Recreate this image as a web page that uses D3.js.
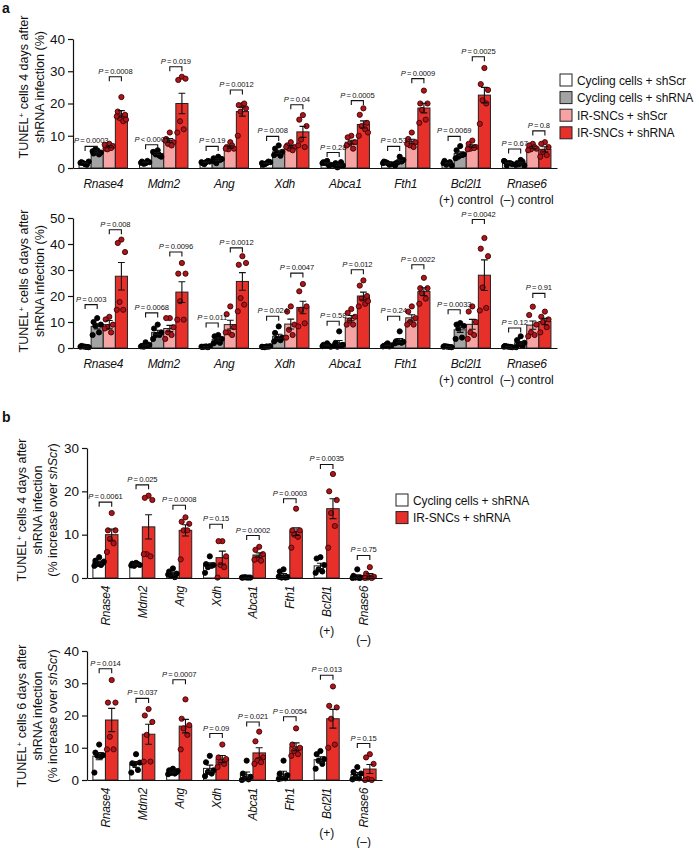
<!DOCTYPE html>
<html><head><meta charset="utf-8">
<script src="https://cdn.jsdelivr.net/npm/d3@7"></script>
<style>
body{margin:0;background:#fff}
svg{display:block}
text{font-family:"Liberation Sans",Arial,Helvetica,sans-serif;fill:#111}
</style>
</head><body>
<svg id="c" width="699" height="848"></svg>
<script>
// ---------- categories ----------
const genes = ["Rnase4","Mdm2","Ang","Xdh","Abca1","Fth1","Bcl2l1","Rnase6"];
const seriesA = ["Cycling cells + shScr","Cycling cells + shRNA","IR-SNCs + shScr","IR-SNCs + shRNA"];
const seriesB = ["Cycling cells + shRNA","IR-SNCs + shRNA"];
const ticksA4 = [0,10,20,30,40];
const ticksA6 = [0,10,20,30,40,50];
const ticksB4 = [0,10,20,30];
const ticksB6 = [0,10,20,30,40];

// ---------- panel a, 4 days ----------
const a4_cycScr = [1.6,1.8,1.8,1.5,1.5,1.5,1.5,1.5];
const a4_cycRNA = [5.0,4.5,2.6,5.0,1.0,2.0,4.5,1.5];
const a4_sncScr = [6.6,8.5,6.5,6.6,8.0,8.2,6.8,6.4];
const a4_sncRNA = [16.8,20.0,17.5,11.2,13.5,18.6,22.6,5.8];
const a4_sem_cycScr = [0.15,0.15,0.15,0.15,0.2,0.15,0.2,0.2];
const a4_sem_cycRNA = [0.3,0.3,0.3,0.5,0.25,0.35,0.5,0.25];
const a4_sem_sncScr = [0.3,0.6,0.35,0.4,0.6,0.7,0.4,0.35];
const a4_sem_sncRNA = [1.0,3.2,1.4,1.7,1.1,1.5,2.4,0.8];
const a4_pts_cycScr = [[1.2,1.8,2.0,1.5,1.0,1.6],[1.5,2.0,1.8,1.3,2.2,1.6],[1.8,1.5,2.0,1.2,2.2,1.8],[1.5,1.0,1.8,1.2,2.0,1.5],[2.2,1.8,1.0,1.5,0.8,1.5],[1.5,2.0,1.2,1.8,1.0,1.5],[1.5,2.2,0.8,1.0,1.8,1.5],[1.5,2.0,1.2,0.8,1.5,2.2]];
const a4_pts_cycRNA = [[5.5,4.5,4.8,5.8,4.2,5.2],[5.5,4.8,3.5,4.2,3.8,5.0],[3.5,2.0,2.8,1.5,2.5,3.0],[7.0,6.0,5.0,4.5,3.8,4.0],[0.5,1.5,0.8,0.2,1.8,1.0],[3.5,1.5,2.5,1.8,2.0,0.8],[6.8,5.5,4.2,3.5,4.0,3.0],[2.5,1.5,0.8,1.2,2.0,1.0]];
const a4_pts_sncScr = [[7.5,6.0,6.8,5.8,6.2,7.2],[11,9,8,7.5,7,8.5],[8,6.5,6,5.8,7,6],[8,7,6.5,6,5.5,6.5],[10,9.5,8,7.5,6,7],[11,9,8,7,6.5,7.5],[8.5,7.5,6.5,6,6.2,5.8],[7.5,7,6,5.8,6.5,5.5]];
const a4_pts_sncRNA = [[22,17.5,16.5,15.5,14.5,16.0,15.0],[28.3,27.3,27.7,14.5,12,11],[19.5,19.5,18.5,17.5,20,10],[16.4,15,13,8.8,6.5,7],[18.5,16.5,14,13,12,10,11],[24,20,20,18,15,14],[31,26,24.2,21,20,13.7],[8,7.5,6.5,5,4,3.5]];
const a4_pLeft = ["0.0003","< 0.0001","0.19","0.008","0.28","0.53","0.0069","0.67"];
const a4_pLeftAt = [6.7,7.2,6.7,9.8,4.8,6.7,9.8,5.9];
const a4_pRight = ["0.0008","0.019","0.0012","0.04","0.0005","0.0009","0.0025","0.8"];
const a4_pRightAt = [28.3,31.4,24.2,19.6,20.9,27.7,34.5,11.5];

// ---------- panel a, 6 days ----------
const a6_cycScr = [0.5,1.0,0.5,0.5,1.0,1.0,0.5,0.5];
const a6_cycRNA = [8.3,6.0,3.2,4.5,2.0,2.9,7.0,2.0];
const a6_sncScr = [9.0,7.5,9.0,9.2,11.5,11.6,9.1,8.8];
const a6_sncRNA = [27.6,21.5,25.6,15.6,20.0,21.7,28.0,10.2];
const a6_sem_cycScr = [0.1,0.25,0.1,0.1,0.2,0.15,0.1,0.1];
const a6_sem_cycRNA = [1.0,0.8,0.5,0.8,0.9,0.7,1.0,0.5];
const a6_sem_sncScr = [1.6,1.2,1.7,1.9,1.0,1.2,1.9,1.6];
const a6_sem_sncRNA = [5.3,4.0,3.4,2.4,1.5,1.5,5.9,1.2];
const a6_pts_cycScr = [[0.5,0.8,0.3,0.6,0.4,0.5],[2.2,0.8,1.2,0.5,0.9,0.6],[0.6,0.4,0.7,0.5,0.3,0.5],[0.6,0.4,0.7,0.3,0.5,0.5],[1.8,1.2,0.5,0.8,1.0,0.7],[1.8,0.8,1.0,1.2,0.6,0.6],[0.5,0.7,0.3,0.6,0.4,0.5],[0.5,0.8,0.3,0.6,0.4,0.5]];
const a6_pts_cycRNA = [[11.5,10,9,8.5,6,5],[9,7.5,6,5,5,3.5],[5,4.5,3.5,2.5,2,1.8],[8.3,5.8,4,3.5,3,2.5],[6.4,2,1.2,0.5,0.8,1.0],[6.4,2.6,2.4,2.2,2.0,1.8],[9.6,9,8.5,7.5,4,3.5],[4.5,3,2,1.5,0.8,0.3]];
const a6_pts_sncScr = [[12,11,9,8,6,7.5],[11.5,11.5,8,6,5,3.5],[16,13,8,6,5,6],[16,14,9,7,5,4],[15,13.5,12,10.5,9,9],[16,14,11.5,10,9,9],[16,14,10,6,5,3.5],[15.9,12.7,9,6,5,4.5]];
const a6_pts_sncRNA = [[41.7,40.4,36.9,17.7,14.7,14.7],[32.7,28.6,28.6,18,10.9,10.9],[35.3,32,32.7,19.2,16.7,14.1],[24.6,21.8,16,14.7,9.5,8.3],[26,24,20,19,17,16,18],[27,23,23,21,19,17],[42.3,38.2,35.3,23.3,15.4,14.4],[14,12,11,10,8,6]];
const a6_pLeft = ["0.003","0.0068","0.011","0.024","0.58","0.24","0.0033","0.12"];
const a6_pLeftAt = [16.7,13.5,9.6,12.2,10.3,12.2,14.7,7.7];
const a6_pRight = ["0.008","0.0096","0.0012","0.0047","0.012","0.0022","0.0042","0.91"];
const a6_pRightAt = [45.5,36.9,38.5,28.8,30.1,32,49.4,21];

// ---------- panel b, 4 days ----------
const b4_cyc = [3.6,3.1,1.0,3.0,0.1,0.7,2.8,0.45];
const b4_snc = [10.0,11.8,11.0,4.7,5.3,10.7,16.0,0.65];
const b4_sem_cyc = [0.3,0.15,0.35,0.5,0.03,0.35,0.6,0.3];
const b4_sem_snc = [1.3,2.8,1.3,1.5,0.5,0.9,2.3,0.4];
const b4_pts_cyc = [[4.8,4.0,3.5,3.2,3.0,2.8,3.8],[3.5,3.3,3.0,2.8,3.2,2.9],[2.2,1.5,1.0,0.5,0.2,0.8],[5,3.2,3,2.5,2.8,1.2],[0.1,0.1,0.1,0.2,0.1,0.1],[2.0,1.5,0.2,0.1,0.1,0.3],[4.8,4.5,3.0,2.0,1.5,1.2],[2.0,0.5,0.1,0.1,0.0,0.0]];
const b4_pts_snc = [[15,11,11,9,8,6],[19,18.5,18,5.5,5,5.5],[14,13,12.5,11,11,4.3],[8.5,8.5,5,3,2.5,0.1],[7.2,6.5,5.5,4.5,4,4.2],[16,11,11,10,9.5,7],[24,20,18,15,12,7],[2.5,1.0,0.3,0.1,0.0,0.0]];
const b4_p = ["0.0061","0.025","0.0008","0.15","0.0002","0.0003","0.0035","0.75"];
const b4_pAt = [17.5,21.5,16.8,12.4,9.8,18.3,26.2,5.2];

// ---------- panel b, 6 days ----------
const b6_cyc = [7.4,4.8,2.5,3.6,1.6,1.8,6.3,1.7];
const b6_snc = [18.6,14.2,16.7,6.5,8.4,10.3,19.0,3.4];
const b6_sem_cyc = [1.1,0.9,0.3,1.0,0.9,0.9,0.9,0.6];
const b6_sem_snc = [3.6,3.1,2.1,1.1,1.6,1.2,2.9,1.4];
const b6_pts_cyc = [[11,8.5,7.7,7.5,7.3,2.3],[8,5.2,5.4,5,3.1,2.3],[3.5,3,2.5,2.2,2,1.8,2.8],[7.5,5.5,3,2.5,2,1.2],[6,2,1,0.5,0.2,0],[6,2,1.5,0.5,0.5,0.3],[9,8,6.5,6,5,3.5],[4,2.5,2,1,0.5,0.2]];
const b6_pts_snc = [[31,24,24,13.4,9.5,9.5],[22,20,18,14,5.7,5.7],[25,19,17,16,14,9.5],[11,7,6.5,5.5,5,4],[15,12,7,6,5.5,5],[16,11,10,9,8,7.5],[29,23,22.5,19,11,10],[8,7,5,0.3,0,0]];
const b6_p = ["0.014","0.037","0.0007","0.09","0.021","0.0054","0.013","0.15"];
const b6_pAt = [34.5,25.3,31.1,14.4,18,19.6,32.5,11.3];

// ---------- styling ----------
const fillsA = ["#ffffff","#a3a3a3","#f5a3a3","#e8302b"];
const fillsB = ["#ffffff","#e8302b"];
const dotA = ["black","black","red","red"];
const dotB = ["black","red"];
const jit = [0,-0.3,0.3,-0.15,0.15,-0.38,0.38];

const svg = d3.select("#c");

function panel(c){
  const g = svg.append("g");
  const y = d3.scaleLinear().domain([0,c.max]).range([c.yBot,c.yTop]);
  const x = d3.scaleBand().domain(genes).range([c.x0,c.x1]).paddingInner(c.pi).paddingOuter(c.pi/2);
  const xs = d3.scaleBand().domain(d3.range(c.means.length)).range([0,x.bandwidth()]);
  const bw = xs.bandwidth();
  const cx = (i,s)=> x(genes[i]) + xs(s) + bw/2;

  c.means.forEach((arr,s)=>{
    g.append("g").selectAll("rect").data(arr).join("rect")
      .attr("x",(d,i)=>x(genes[i])+xs(s)).attr("width",bw)
      .attr("y",d=>y(d)).attr("height",d=>c.yBot-y(d))
      .attr("fill",c.fills[s]).attr("stroke","#222").attr("stroke-width",1);
  });
  c.pts.forEach((arr,s)=>{
    arr.forEach((vals,i)=>{
      g.append("g").selectAll("circle").data(vals).join("circle")
        .attr("cx",(d,k)=>cx(i,s)+jit[k%jit.length]*bw)
        .attr("cy",d=>y(d)).attr("r",2.6)
        .attr("fill",c.dots[s]==="black"?"#000":"#b0141b")
        .attr("stroke",c.dots[s]==="black"?"#000":"#3a0505").attr("stroke-width",0.9);
    });
  });
  c.means.forEach((arr,s)=>{
    arr.forEach((m,i)=>{
      const e = c.sems[s][i];
      const hi = y(m+e), lo = y(Math.max(0,m-e)), xx = cx(i,s), cw = bw*0.28;
      g.append("path").attr("d",`M${xx},${lo}V${hi}M${xx-cw},${hi}H${xx+cw}M${xx-cw},${lo}H${xx+cw}`)
        .attr("stroke","#111").attr("stroke-width",1.1).attr("fill","none");
    });
  });
  g.append("g").attr("transform",`translate(${c.x0},0)`)
    .call(d3.axisLeft(y).tickValues(c.ticks).tickSize(5).tickPadding(3).tickSizeOuter(0))
    .call(a=>{a.selectAll("text").attr("font-size",13.5);a.selectAll("path,line").attr("stroke","#111").attr("stroke-width",1.2);});
  g.append("g").attr("transform",`translate(0,${c.yBot})`)
    .call(d3.axisBottom(x).tickSize(0).tickFormat("").tickSizeOuter(0))
    .call(a=>a.select(".domain").attr("stroke","#111").attr("stroke-width",1.2));

  c.pvals.forEach((pv,j)=>{
    const [s0,s1] = c.pairs[j];
    pv.labels.forEach((lab,i)=>{
      const xa = cx(i,s0), xb = cx(i,s1), yy = y(pv.at[i]);
      g.append("path").attr("d",`M${xa},${yy+4.5}V${yy}H${xb}V${yy+4.5}`)
        .attr("stroke","#111").attr("stroke-width",1.1).attr("fill","none");
      const t = g.append("text").attr("x",(xa+xb)/2).attr("y",yy-3).attr("text-anchor","middle")
        .attr("font-size",7.6).attr("letter-spacing",-0.15);
      t.append("tspan").attr("font-style","italic").text("P");
      t.append("tspan").text(lab.startsWith("<") ? "\u2009<\u2009"+lab.slice(2) : "\u2009=\u2009"+lab);
    });
  });

  genes.forEach((gn,i)=>{
    const xc = x(gn)+x.bandwidth()/2;
    if(c.vertical){
      g.append("text").attr("transform",`translate(${xc+4.5},${c.yBot+8}) rotate(-90)`)
        .attr("text-anchor","end").attr("font-size",12).attr("letter-spacing",-0.3).attr("font-style","italic").text(gn);
    } else {
      g.append("text").attr("x",xc).attr("y",c.yBot+19.5).attr("text-anchor","middle")
        .attr("font-size",12).attr("letter-spacing",-0.3).attr("font-style","italic").text(gn);
    }
  });
  const ctl = {6:"(+)",7:"(\u2013)"};
  Object.keys(ctl).forEach(k=>{
    const xc = x(genes[k])+x.bandwidth()/2;
    if(c.vertical){
      g.append("text").attr("x",xc).attr("y",c.yBot+(k==6?57:66)).attr("text-anchor","middle").attr("font-size",12).text(ctl[k]);
    } else {
      g.append("text").attr("x",xc).attr("y",c.yBot+35.5).attr("text-anchor","middle").attr("font-size",12).text(ctl[k]+" control");
    }
  });

  c.title.forEach((ln,li)=>{
    const t = g.append("text").attr("transform",`translate(${c.titleX[li]},${c.titleY}) rotate(-90)`)
      .attr("text-anchor","middle").attr("font-size",12.5);
    ln.forEach(seg=>{
      const ts = t.append("tspan").text(seg.t);
      if(seg.it) ts.attr("font-style","italic");
      if(seg.sup) ts.attr("font-size",8).attr("dy",-4.5);
      if(seg.down) ts.attr("dy",4.5);
    });
  });
  return {x,y};
}

const titleDays = d=>[{t:"TUNEL"},{t:"+",sup:1},{t:" cells "+d+" days after",down:1}];

panel({x0:73,x1:557,yTop:39,yBot:168,max:40,ticks:ticksA4,pi:0.2,
  means:[a4_cycScr,a4_cycRNA,a4_sncScr,a4_sncRNA],
  sems:[a4_sem_cycScr,a4_sem_cycRNA,a4_sem_sncScr,a4_sem_sncRNA],
  pts:[a4_pts_cycScr,a4_pts_cycRNA,a4_pts_sncScr,a4_pts_sncRNA],
  fills:fillsA,dots:dotA,pairs:[[0,1],[2,3]],
  pvals:[{labels:a4_pLeft,at:a4_pLeftAt},{labels:a4_pRight,at:a4_pRightAt}],
  vertical:false,
  title:[titleDays(4),[{t:"shRNA infection (%)"}]],titleX:[28,44],titleY:87});

panel({x0:73,x1:557,yTop:218,yBot:348,max:50,ticks:ticksA6,pi:0.2,
  means:[a6_cycScr,a6_cycRNA,a6_sncScr,a6_sncRNA],
  sems:[a6_sem_cycScr,a6_sem_cycRNA,a6_sem_sncScr,a6_sem_sncRNA],
  pts:[a6_pts_cycScr,a6_pts_cycRNA,a6_pts_sncScr,a6_pts_sncRNA],
  fills:fillsA,dots:dotA,pairs:[[0,1],[2,3]],
  pvals:[{labels:a6_pLeft,at:a6_pLeftAt},{labels:a6_pRight,at:a6_pRightAt}],
  vertical:false,
  title:[titleDays(6),[{t:"shRNA infection (%)"}]],titleX:[28,44],titleY:281});

const titleB3 = [{t:"(% increase over "},{t:"shScr",it:1},{t:")"}];
panel({x0:87,x1:382,yTop:448,yBot:578,max:30,ticks:ticksB4,pi:0.32,
  means:[b4_cyc,b4_snc],sems:[b4_sem_cyc,b4_sem_snc],pts:[b4_pts_cyc,b4_pts_snc],
  fills:fillsB,dots:dotB,pairs:[[0,1]],
  pvals:[{labels:b4_p,at:b4_pAt}],vertical:true,
  title:[titleDays(4),[{t:"shRNA infection"}],titleB3],titleX:[26,42,57],titleY:510});

panel({x0:87,x1:382,yTop:651,yBot:780,max:40,ticks:ticksB6,pi:0.32,
  means:[b6_cyc,b6_snc],sems:[b6_sem_cyc,b6_sem_snc],pts:[b6_pts_cyc,b6_pts_snc],
  fills:fillsB,dots:dotB,pairs:[[0,1]],
  pvals:[{labels:b6_p,at:b6_pAt}],vertical:true,
  title:[titleDays(6),[{t:"shRNA infection"}],titleB3],titleX:[26,42,57],titleY:716});

svg.append("text").attr("x",2).attr("y",13).attr("font-size",14).attr("font-weight","bold").text("a");
svg.append("text").attr("x",2).attr("y",422).attr("font-size",14).attr("font-weight","bold").text("b");

function legend(x0,y0,names,fills){
  const lg = svg.append("g");
  names.forEach((n,i)=>{
    const yy = y0 + i*17.6;
    lg.append("rect").attr("x",x0).attr("y",yy-6).attr("width",12).attr("height",12)
      .attr("fill",fills[i]).attr("stroke","#222").attr("stroke-width",1);
    lg.append("text").attr("x",x0+17).attr("y",yy+4.5).attr("font-size",12).attr("letter-spacing",-0.1).text(n);
  });
}
legend(560,80,seriesA,fillsA);
legend(396,500,seriesB,fillsB);
</script>
</body></html>
